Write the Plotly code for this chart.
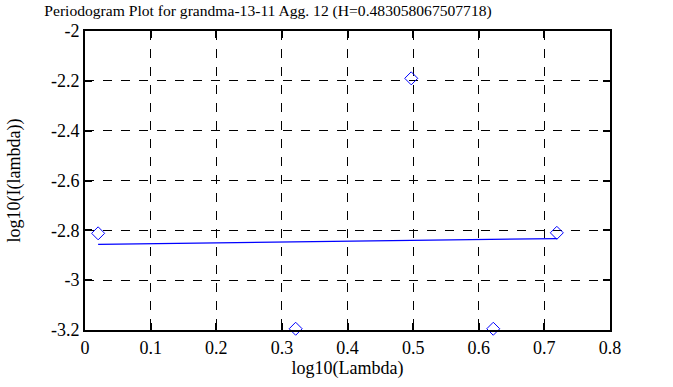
import plotly.graph_objects as go

# Data
log_lambda = [0.0200, 0.3210, 0.4971, 0.6221, 0.7190]
log_I = [-2.812, -3.195, -2.190, -3.195, -2.810]
fit_x = [0.0200, 0.7190]
fit_y = [-2.856, -2.833]

x_tickvals = [0, 0.1, 0.2, 0.3, 0.4, 0.5, 0.6, 0.7, 0.8]
x_ticktext = ["0", "0.1", "0.2", "0.3", "0.4", "0.5", "0.6", "0.7", "0.8"]
y_tickvals = [-2.0, -2.2, -2.4, -2.6, -2.8, -3.0, -3.2]
y_ticktext = ["-2", "-2.2", "-2.4", "-2.6", "-2.8", "-3", "-3.2"]

title_text = "Periodogram Plot for grandma-13-11 Agg. 12 (H=0.483058067507718)"

FONT = "Liberation Serif"

fig = go.Figure()
fig.add_trace(go.Scatter(
    x=log_lambda, y=log_I, mode="markers",
    marker=dict(symbol="diamond-open", size=10, color="#0000ff", line=dict(width=1, color="#0000ff")),
    cliponaxis=False, showlegend=False,
))
fig.add_trace(go.Scatter(
    x=fit_x, y=fit_y, mode="lines",
    line=dict(color="#0000ff", width=1.3),
    showlegend=False,
))

axis_common = dict(
    showline=True, linecolor="black", linewidth=2, mirror="allticks",
    ticks="inside", ticklen=7, tickwidth=2, tickcolor="black",
    showgrid=True, gridcolor="black", gridwidth=1, griddash="dash",
    zeroline=False,
    tickfont=dict(family=FONT, size=18, color="black"),
)

fig.update_layout(
    width=673, height=387,
    margin=dict(l=82, r=63, t=31, b=57),
    paper_bgcolor="white", plot_bgcolor="white",
    font=dict(family=FONT, size=18, color="black"),
    title=dict(text=title_text, x=268/673, xanchor="center", xref="container",
               y=1 - 10.5/387, yanchor="middle", yref="container",
               font=dict(family=FONT, size=15.6, color="black")),
    xaxis=dict(range=[0, 0.8], tickvals=x_tickvals, ticktext=x_ticktext,
               title=dict(text="log10(Lambda)", font=dict(family=FONT, size=18), standoff=5),
               **axis_common),
    yaxis=dict(range=[-3.2, -2.0], tickvals=y_tickvals, ticktext=y_ticktext,
               title=dict(text="log10(I(lambda))", font=dict(family=FONT, size=18), standoff=26),
               **axis_common),
)

fig.write_html("out.html", config={"displayModeBar": False},
               post_script="document.body.style.margin='0';document.body.style.overflow='hidden';")
